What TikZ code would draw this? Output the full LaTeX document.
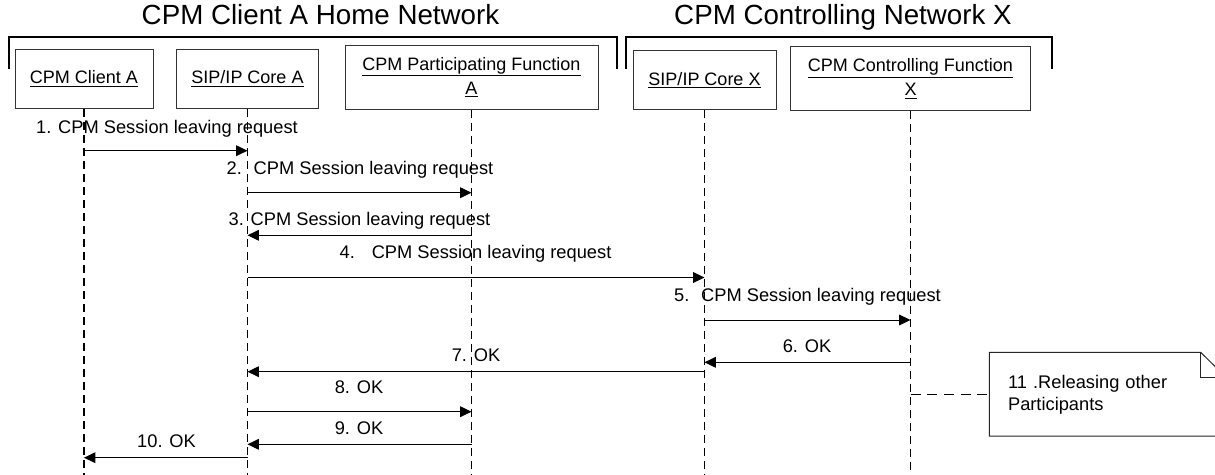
\documentclass[tikz,border=0pt]{standalone}
\usepackage{fontspec}
\setmainfont{Liberation Sans}
\usetikzlibrary{arrows.meta}
\tikzset{
  lbox/.style={draw=black!80, line width=0.75pt, inner sep=0pt, align=center,
    font=\fontsize{13.5}{18.4}\selectfont},
  life/.style={draw=black, line width=0.8pt, dash pattern=on 6pt off 3.75pt},
  msg/.style={draw=black, line width=0.75pt, -{Triangle[length=8.5pt,width=8pt]}},
  lbl/.style={anchor=base, inner sep=0pt, font=\fontsize{13.7}{16}\selectfont},
  ttl/.style={anchor=base, inner sep=0pt, font=\fontsize{20.8}{24}\selectfont},
  brk/.style={draw=black, line width=1.1pt},
  notebox/.style={draw=none, anchor=north west, inner xsep=8.25pt, inner ysep=0pt,
    minimum width=177.75pt, minimum height=63pt, text width=150pt, align=left,
    font=\fontsize{13.7}{16.3}\selectfont},
  notedash/.style={draw=black, line width=0.75pt, dash pattern=on 7.5pt off 5pt}
}
\begin{document}
\begin{tikzpicture}[x=0.75pt,y=-0.75pt]
\clip (0,0) rectangle (1215,475);
\fill[white] (0,0) rectangle (1215,475);
% titles
\node[ttl] (t1) at (320.5,24) {CPM Client A Home Network};
\node[ttl] (t2) at (843,24) {CPM Controlling Network X};
% brackets
\coordinate (b1a) at (9,69); \coordinate (b1b) at (617,69);
\coordinate (b2a) at (626,69); \coordinate (b2b) at (1052,69);
\draw[brk] (b1a) -- (b1a |- 0,37) -- (b1b |- 0,37) -- (b1b);
\draw[brk] (b2a) -- (b2a |- 0,37) -- (b2b |- 0,37) -- (b2b);
% boxes
\node[lbox, minimum width=103.5pt, minimum height=44.25pt] (ca) at (84,78.8) {\underline{CPM Client A}};
\node[lbox, minimum width=106.2pt, minimum height=44.25pt] (cb) at (247.5,78.8) {\underline{SIP/IP Core A}};
\node[lbox, minimum width=189.75pt, minimum height=48.2pt] (pf) at (471.5,77.2) {\underline{CPM Participating Function}\\\underline{A}};
\node[lbox, minimum width=107.25pt, minimum height=44pt] (cx) at (704.5,80) {\underline{SIP/IP Core X}};
\node[lbox, minimum width=180pt, minimum height=47.7pt] (cf) at (910.5,78.5) {\underline{CPM Controlling Function}\\\underline{X}};
% lifelines
\foreach \n in {ca,cb,pf,cx,cf} { \draw[life] (\n.south) -- (\n |- 0,476); }
% messages
\node[lbl] (l1) at (167,133) {1. CPM Session leaving request};
\draw[msg] (ca |- 0,150.7) -- (cb |- 0,150.7);
\node[lbl] (l2) at (360,174) {2.~ CPM Session leaving request};
\draw[msg] (cb |- 0,192.7) -- (pf |- 0,192.7);
\node[lbl] (l3) at (359.5,225) {3. CPM Session leaving request};
\draw[msg] (pf |- 0,235.3) -- (cb |- 0,235.3);
\node[lbl] (l4) at (475.5,258) {4.~~ CPM Session leaving request};
\draw[msg] (cb |- 0,277.5) -- (cx |- 0,277.5);
\node[lbl] (l5) at (807.5,301) {5.~ CPM Session leaving request};
\draw[msg] (cx |- 0,320) -- (cf |- 0,320);
\node[lbl] (l6) at (807,352) {6. OK};
\draw[msg] (cf |- 0,362.3) -- (cx |- 0,362.3);
\node[lbl] (l7) at (476,361) {7. OK};
\draw[msg] (cx |- 0,371.7) -- (cb |- 0,371.7);
\node[lbl] (l8) at (359,393) {8. OK};
\draw[msg] (cb |- 0,411.7) -- (pf |- 0,411.7);
\node[lbl] (l9) at (359,434) {9. OK};
\draw[msg] (pf |- 0,444.3) -- (cb |- 0,444.3);
\node[lbl] (l10) at (166.5,447) {10. OK};
\draw[msg] (cb |- 0,457.7) -- (ca |- 0,457.7);
% note
\node[notebox] (note) at (989.3,352.3) {11 .Releasing other\\Participants};
\draw[draw=black!85, line width=0.75pt]
  (note.north west) -- (1200.7,352.3) -- (1226,377.3) -- (1226,436) -- (note.south west |- 0,436) -- cycle;
\draw[draw=black!85, line width=0.75pt] (1200.7,352.3) -- (1200.7,377.3) -- (1226,377.3);
\draw[notedash] (cf |- note.west) -- (note.west);
\end{tikzpicture}
\end{document}
